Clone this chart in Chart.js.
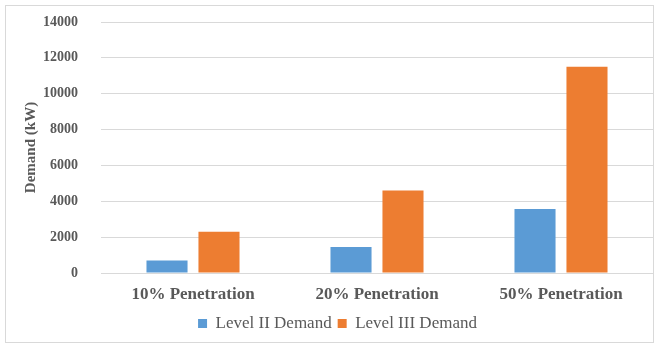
<!DOCTYPE html>
<html>
<head>
<meta charset="utf-8">
<script src="https://cdn.jsdelivr.net/npm/chart.js@4.4.0/dist/chart.umd.min.js"></script>
<style>
    html, body { margin: 0; padding: 0; background: #fff; }
    #wrap { position: absolute; left: 0; top: 0; width: 659px; height: 346px; }
    #frame { position: absolute; left: 5px; top: 5px; width: 649px; height: 338px; border: 1px solid #d9d9d9; box-sizing: border-box; }
</style>
</head>
<body>
<div id="wrap">
    <div id="frame"></div>
    <canvas id="demandChart" width="659" height="346"></canvas>
</div>
<script>
const categories = ['10% Penetration', '20% Penetration', '50% Penetration'];
const levelIIDemand = [700, 1450, 3570];
const levelIIIDemand = [2300, 4600, 11500];
const yTicks = [0, 2000, 4000, 6000, 8000, 10000, 12000, 14000];

const serif = "'Liberation Serif', 'Times New Roman', serif";
const textGray = '#595959';

Chart.defaults.font.family = serif;
Chart.defaults.color = textGray;

// keep the scales from pushing the plot area around
function noScalePadding(scale) {
    scale.paddingTop = 0;
    scale.paddingBottom = 0;
}

const ctx = document.getElementById('demandChart');

new Chart(ctx, {
    type: 'bar',
    data: {
        labels: categories,
        datasets: [
            {
                label: 'Level II Demand',
                data: levelIIDemand,
                backgroundColor: '#5b9bd5',
                borderWidth: 0
            },
            {
                label: 'Level III Demand',
                data: levelIIIDemand,
                backgroundColor: '#ed7d31',
                borderWidth: 0
            }
        ]
    },
    options: {
        responsive: false,
        animation: false,
        datasets: {
            bar: {
                categoryPercentage: 0.565,
                barPercentage: 0.79
            }
        },
        layout: {
            padding: { left: 22, right: 6, top: 22, bottom: 4 }
        },
        scales: {
            x: {
                grid: { display: false, drawTicks: false },
                border: { display: false },
                ticks: {
                    color: textGray,
                    padding: 11,
                    font: { family: serif, size: 17, weight: 'bold' }
                },
                afterFit: (scale) => {
                    scale.height = 36;
                    noScalePadding(scale);
                }
            },
            y: {
                min: 0,
                max: 14000,
                afterBuildTicks: (scale) => {
                    scale.ticks = yTicks.map(v => ({ value: v }));
                },
                grid: {
                    color: '#d9d9d9',
                    lineWidth: 1,
                    drawTicks: false
                },
                border: { display: false },
                ticks: {
                    color: textGray,
                    padding: 23,
                    font: { family: serif, size: 14, weight: 'bold' },
                    callback: (v) => String(v)
                },
                title: {
                    display: true,
                    text: 'Demand (kW)',
                    color: textGray,
                    padding: { top: 0, bottom: 0 },
                    font: { family: serif, size: 15, weight: 'bold' }
                },
                afterFit: (scale) => {
                    scale.width = 79;
                    noScalePadding(scale);
                }
            }
        },
        plugins: {
            legend: {
                position: 'bottom',
                labels: {
                    color: textGray,
                    boxWidth: 9,
                    boxHeight: 9,
                    padding: 6,
                    font: { family: serif, size: 17 }
                }
            },
            tooltip: { enabled: false }
        }
    }
});
</script>
</body>
</html>
